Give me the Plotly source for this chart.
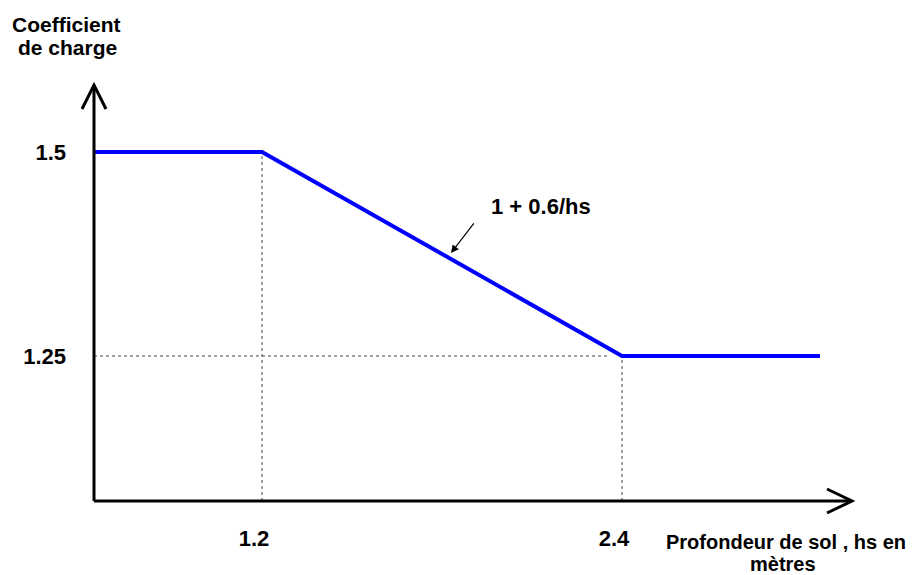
import plotly.graph_objects as go

# Data
depth = [0, 1.2, 2.4, 3.06]          # hs (m)
coef = [1.5, 1.5, 1.25, 1.25]        # coefficient de charge
x_ticks = [1.2, 2.4]
x_ticktext = ["1.2", "2.4"]
y_ticks = [1.5, 1.25]
y_ticktext = ["1.5", "1.25"]

FONT = "Liberation Sans"
X0, X1 = 0.64, 3.1667
Y0, Y1 = 1.0723, 1.582

fig = go.Figure()
fig.add_trace(go.Scatter(
    x=depth, y=coef, mode="lines",
    line=dict(color="#0000FF", width=4),
    hoverinfo="skip", showlegend=False,
))

dot = dict(color="#444444", width=1, dash="dot")
shapes = [
    dict(type="line", xref="x", yref="y", x0=x_ticks[0], x1=x_ticks[0],
         y0=Y0, y1=coef[1], layer="below", line=dot),
    dict(type="line", xref="x", yref="y", x0=x_ticks[1], x1=x_ticks[1],
         y0=Y0, y1=coef[2], layer="below", line=dot),
    dict(type="line", xref="x", yref="y", x0=X0, x1=2.35,
         y0=y_ticks[1], y1=y_ticks[1], layer="below", line=dot),
    # axes
    dict(type="line", xref="paper", yref="paper", x0=0, x1=1, y0=0, y1=0,
         line=dict(color="black", width=3)),
    dict(type="line", xref="paper", yref="paper", x0=0, x1=0, y0=0, y1=1,
         line=dict(color="black", width=3)),
    # arrowheads
    dict(type="path", xref="paper", yref="paper",
         xsizemode="pixel", ysizemode="pixel", xanchor=1, yanchor=0,
         path="M-25,12 L0,0 L-25,-12", line=dict(color="black", width=3)),
    dict(type="path", xref="paper", yref="paper",
         xsizemode="pixel", ysizemode="pixel", xanchor=0, yanchor=1,
         path="M-12,-24 L0,0 L12,-24", line=dict(color="black", width=3)),
]

tfont = dict(family=FONT, size=21, color="black", weight="bold")
bfont = dict(family=FONT, size=20, color="black", weight="bold")
kfont = dict(family=FONT, size=22, color="black", weight="bold")

def lab(text, x, y, xs, ys, f=tfont):
    return dict(text=text, xref="paper", yref="paper", x=x, y=y,
                xanchor="center", yanchor="middle", xshift=xs, yshift=ys,
                showarrow=False, font=f)

annotations = [
    lab("Coefficient", 0, 1, -28, 61),
    lab("de charge", 0, 1, -27, 38),
    lab("Profondeur de sol , hs en", 1, 0, -66, -41, bfont),
    lab("mètres", 1, 0, -69, -63, bfont),
    dict(text="1 + 0.6/hs", xref="x", yref="y", x=2.13, y=1.4326,
         xanchor="center", yanchor="middle", showarrow=False, font=kfont),
    dict(text="", xref="x", yref="y", x=1.83, y=1.3762, ax=24, ay=-31,
         showarrow=True, arrowhead=2, arrowsize=1.3, arrowwidth=1.2, arrowcolor="black"),
]

fig.update_layout(
    width=909, height=567,
    margin=dict(l=86, r=65, t=77, b=74),
    paper_bgcolor="white", plot_bgcolor="white",
    shapes=shapes, annotations=annotations,
    showlegend=False,
    xaxis=dict(range=[X0, X1], showgrid=False, zeroline=False, showline=False,
               tickvals=x_ticks, ticktext=x_ticktext, ticks="",
               tickfont=kfont, ticklabelshift=-8, ticklabelstandoff=22),
    yaxis=dict(range=[Y0, Y1], showgrid=False, zeroline=False, showline=False,
               tickvals=y_ticks, ticktext=y_ticktext, ticks="",
               tickfont=kfont, ticklabelstandoff=27),
)

fig.write_html("out.html")
